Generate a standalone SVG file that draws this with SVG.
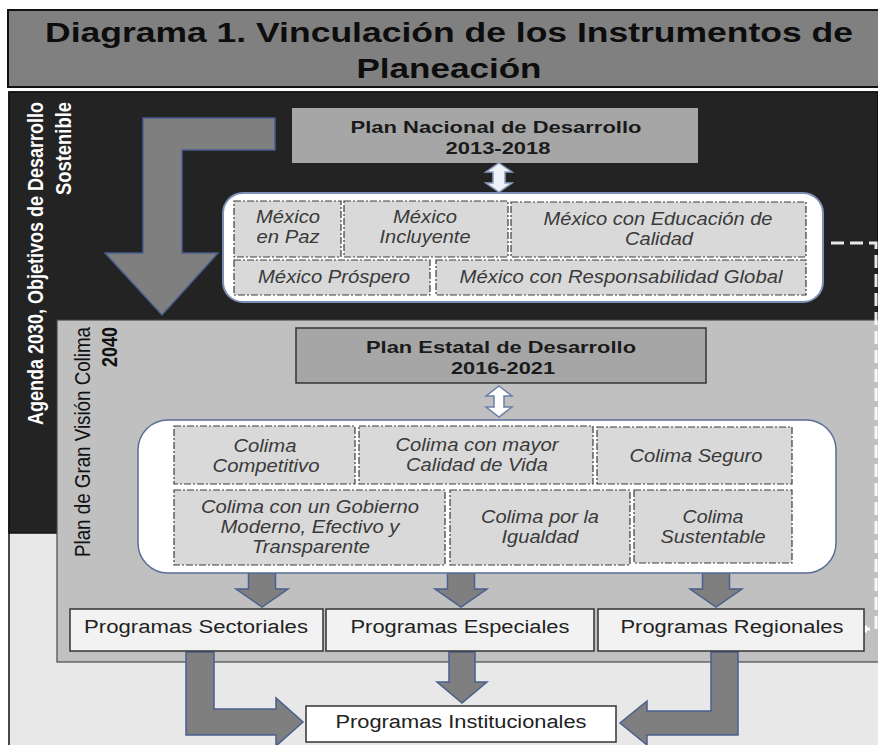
<svg xmlns="http://www.w3.org/2000/svg" width="878" height="745" viewBox="0 0 878 745">
<defs>
<style>
.t{font-family:"Liberation Sans",Arial,sans-serif}
.ttl{font-size:28px;font-weight:bold;fill:#0d0d0d;text-anchor:middle}
.hb{font-size:17px;font-weight:bold;fill:#1a1a1a;text-anchor:middle}
.it{font-size:17.5px;font-style:italic;fill:#3a3a3a;text-anchor:middle}
.pg{font-size:18px;fill:#222;text-anchor:middle}
.db{fill:#d9d9d9;stroke:#3c3c3c;stroke-width:1.2;stroke-dasharray:7 2 2 2}
.pb{fill:#f2f2f2;stroke:#333;stroke-width:1.5}
.ar{fill:#7f7f7f;stroke:#4a5f8f;stroke-width:1.5}
</style>
<marker id="wh" viewBox="0 0 10 10" refX="9" refY="5" markerWidth="4" markerHeight="4" orient="auto">
<path d="M0 0 L10 5 L0 10 Z" fill="#ffffff"/>
</marker>
</defs>

<rect x="0" y="0" width="878" height="745" fill="#ffffff"/>

<g id="title">
<rect x="8" y="10" width="874" height="77" fill="#808080" stroke="#111" stroke-width="2"/>
<text class="t ttl" x="449" y="42" textLength="808" lengthAdjust="spacingAndGlyphs">Diagrama 1. Vinculación de los Instrumentos de</text>
<text class="t ttl" x="449" y="78" textLength="185" lengthAdjust="spacingAndGlyphs">Planeación</text>
</g>

<g id="agenda2030">
<rect x="9" y="92" width="872" height="656" fill="#e8e8e8" stroke="#111" stroke-width="1.5"/>
<path d="M9 92 H878 V320 H57 V533 H9 Z" fill="#232323" stroke="#111" stroke-width="1.5"/>
<g transform="translate(43,102) scale(1.25,1) rotate(-90)">
<text class="t" x="0" y="0" font-size="17.5" font-weight="bold" fill="#ffffff" text-anchor="end" textLength="323" lengthAdjust="spacingAndGlyphs">Agenda 2030, Objetivos de Desarrollo</text>
<text class="t" x="0" y="22.4" font-size="17.5" font-weight="bold" fill="#ffffff" text-anchor="end" textLength="93" lengthAdjust="spacingAndGlyphs">Sostenible</text>
</g>
</g>

<g id="granVision">
<rect x="57" y="320" width="825" height="342" fill="#c0c0c0" stroke="#4a4a4a" stroke-width="1.2"/>
<g transform="translate(90,327) scale(1.25,1) rotate(-90)">
<text class="t" x="0" y="0" font-size="18" fill="#111" text-anchor="end" textLength="230" lengthAdjust="spacingAndGlyphs">Plan de Gran Visión Colima</text>
<text class="t" x="0" y="21.6" font-size="18" font-weight="bold" fill="#111" text-anchor="end" textLength="40" lengthAdjust="spacingAndGlyphs">2040</text>
</g>
</g>

<g id="connectors">
<path class="ar" d="M275 118 H143 V253 H105 L162 315 L218 253 H182 V150 H275 Z" stroke="#3f5a8a" fill="#808080"/>
<path d="M499 163 L512 172 H505 V183 H512 L499 192 L486 183 H493 V172 H486 Z" fill="#eef2f8" stroke="#8fa0c0" stroke-width="1.5"/>
<path d="M499 386 L512 396 H504 V407 H512 L499 417 L486 407 H494 V396 H486 Z" fill="#ffffff" stroke="#6b7fa8" stroke-width="1.5"/>
<path class="ar" d="M248.5 573 H275.5 V589 H288 L262 607 L236 589 H248.5 Z"/>
<path class="ar" d="M447.5 573 H474.5 V589 H487 L461 607 L435 589 H447.5 Z"/>
<path class="ar" d="M702.5 573 H729.5 V589 H742 L716 607 L690 589 H702.5 Z"/>
<path class="ar" d="M449 652 H475 V682 H487 L462 703 L437 682 H449 Z"/>
<path class="ar" d="M186 652 H214 V709 H276 V698 L303 722 L276 746 V735 H186 Z"/>
<path class="ar" d="M711 652 H738 V735 H647 V745 L620 723 L647 701 V711 H711 Z"/>
<path d="M831 243 H876 V629 H866" fill="none" stroke="#ffffff" stroke-width="3" stroke-dasharray="13 6" opacity="0.9"/>
<path d="M868 629 H860" fill="none" stroke="#ffffff" stroke-width="2" marker-end="url(#wh)"/>
</g>

<g id="planNacional">
<rect x="292" y="108" width="406" height="55" fill="#a6a6a6"/>
<text class="t hb" x="496" y="133" textLength="291" lengthAdjust="spacingAndGlyphs">Plan Nacional de Desarrollo</text>
<text class="t hb" x="498" y="154" textLength="105" lengthAdjust="spacingAndGlyphs">2013-2018</text>
</g>

<g id="ejesNacionales">
<rect x="223" y="193" width="600" height="109" rx="20" ry="20" fill="#ffffff" stroke="#7d8fb5" stroke-width="2"/>
</g>
<g id="mexicoPaz">
<rect class="db" x="234" y="201" width="107" height="56"/>
<text class="t it" x="288" y="223" textLength="64" lengthAdjust="spacingAndGlyphs">México</text>
<text class="t it" x="288" y="243" textLength="63" lengthAdjust="spacingAndGlyphs">en Paz</text>
</g>
<g id="mexicoIncluyente">
<rect class="db" x="344" y="201" width="164" height="56"/>
<text class="t it" x="425" y="223" textLength="64" lengthAdjust="spacingAndGlyphs">México</text>
<text class="t it" x="425" y="243" textLength="91" lengthAdjust="spacingAndGlyphs">Incluyente</text>
</g>
<g id="mexicoEducacion">
<rect class="db" x="511" y="202" width="295" height="55"/>
<text class="t it" x="658" y="225" textLength="229" lengthAdjust="spacingAndGlyphs">México con Educación de</text>
<text class="t it" x="659" y="245" textLength="68" lengthAdjust="spacingAndGlyphs">Calidad</text>
</g>
<g id="mexicoProspero">
<rect class="db" x="234" y="260" width="196" height="35"/>
<text class="t it" x="334" y="283" textLength="152" lengthAdjust="spacingAndGlyphs">México Próspero</text>
</g>
<g id="mexicoGlobal">
<rect class="db" x="436" y="260" width="370" height="35"/>
<text class="t it" x="621" y="283" textLength="323" lengthAdjust="spacingAndGlyphs">México con Responsabilidad Global</text>
</g>

<g id="planEstatal">
<rect x="296" y="328" width="410" height="55" fill="#a6a6a6" stroke="#333" stroke-width="1.5"/>
<text class="t hb" x="501" y="353" textLength="270" lengthAdjust="spacingAndGlyphs">Plan Estatal de Desarrollo</text>
<text class="t hb" x="503" y="374" textLength="104" lengthAdjust="spacingAndGlyphs">2016-2021</text>
</g>

<g id="ejesEstatales">
<rect x="138" y="420" width="698" height="153" rx="30" ry="30" fill="#ffffff" stroke="#5a6e96" stroke-width="1.5"/>
</g>
<g id="colimaCompetitivo">
<rect class="db" x="174" y="426" width="181" height="58"/>
<text class="t it" x="265" y="452" textLength="63" lengthAdjust="spacingAndGlyphs">Colima</text>
<text class="t it" x="266" y="472" textLength="107" lengthAdjust="spacingAndGlyphs">Competitivo</text>
</g>
<g id="colimaCalidad">
<rect class="db" x="359" y="426" width="234" height="58"/>
<text class="t it" x="477" y="451" textLength="163" lengthAdjust="spacingAndGlyphs">Colima con mayor</text>
<text class="t it" x="477" y="471" textLength="142" lengthAdjust="spacingAndGlyphs">Calidad de Vida</text>
</g>
<g id="colimaSeguro">
<rect class="db" x="597" y="427" width="195" height="57"/>
<text class="t it" x="696" y="462" textLength="133" lengthAdjust="spacingAndGlyphs">Colima Seguro</text>
</g>
<g id="colimaGobierno">
<rect class="db" x="174" y="490" width="271" height="75"/>
<text class="t it" x="310" y="513" textLength="218" lengthAdjust="spacingAndGlyphs">Colima con un Gobierno</text>
<text class="t it" x="310" y="533" textLength="179" lengthAdjust="spacingAndGlyphs">Moderno, Efectivo y</text>
<text class="t it" x="311" y="553" textLength="118" lengthAdjust="spacingAndGlyphs">Transparente</text>
</g>
<g id="colimaIgualdad">
<rect class="db" x="450" y="490" width="180" height="75"/>
<text class="t it" x="540" y="523" textLength="118" lengthAdjust="spacingAndGlyphs">Colima por la</text>
<text class="t it" x="540" y="543" textLength="77" lengthAdjust="spacingAndGlyphs">Igualdad</text>
</g>
<g id="colimaSustentable">
<rect class="db" x="634" y="490" width="158" height="73"/>
<text class="t it" x="713" y="523" textLength="61" lengthAdjust="spacingAndGlyphs">Colima</text>
<text class="t it" x="713" y="543" textLength="105" lengthAdjust="spacingAndGlyphs">Sustentable</text>
</g>

<g id="programasSectoriales">
<rect class="pb" x="70" y="609" width="253" height="42"/>
<text class="t pg" x="196" y="633" textLength="224" lengthAdjust="spacingAndGlyphs">Programas Sectoriales</text>
</g>
<g id="programasEspeciales">
<rect class="pb" x="326" y="609" width="268" height="42"/>
<text class="t pg" x="460" y="633" textLength="219" lengthAdjust="spacingAndGlyphs">Programas Especiales</text>
</g>
<g id="programasRegionales">
<rect class="pb" x="598" y="609" width="266" height="42"/>
<text class="t pg" x="732" y="633" textLength="223" lengthAdjust="spacingAndGlyphs">Programas Regionales</text>
</g>
<g id="programasInstitucionales">
<rect x="306" y="706" width="310" height="36" fill="#ffffff" stroke="#333" stroke-width="1.5"/>
<text class="t pg" x="461" y="728" textLength="251" lengthAdjust="spacingAndGlyphs">Programas Institucionales</text>
</g>
</svg>
